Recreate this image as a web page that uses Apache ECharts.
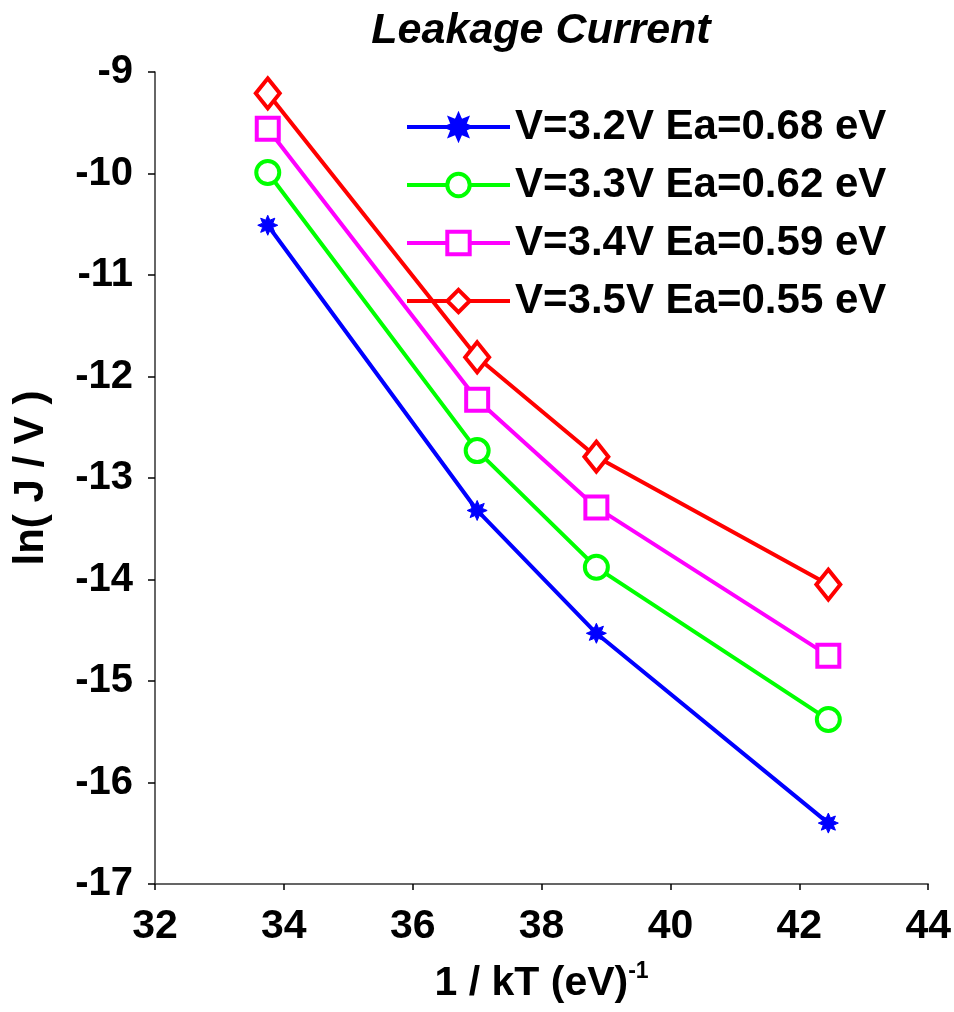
<!DOCTYPE html>
<html>
<head>
<meta charset="utf-8">
<title>Leakage Current</title>
<script src="https://cdn.jsdelivr.net/npm/echarts@6/dist/echarts.min.js"></script>
<style>
  html, body { margin: 0; padding: 0; background: #fff; }
  #chart { width: 954px; height: 1012px; }
</style>
</head>
<body>
<div id="chart"></div>
<script>
// data
var invKT = [33.75, 37.0, 38.85, 42.45];
var names = ['V=3.2V Ea=0.68 eV', 'V=3.3V Ea=0.62 eV', 'V=3.4V Ea=0.59 eV', 'V=3.5V Ea=0.55 eV'];
var v32 = [-10.51, -13.32, -14.53, -16.40];
var v33 = [-9.99, -12.73, -13.88, -15.38];
var v34 = [-9.56, -12.23, -13.29, -14.75];
var v35 = [-9.21, -11.81, -12.79, -14.05];
var colors = ['#0000ff', '#00ff00', '#ff00ff', '#ff0000'];

// fat asterisk for the blue series
function starPath(n, ro, ri) {
    var p = [];
    for (var i = 0; i < 2 * n; i++) {
        var a = Math.PI * i / n, r = i % 2 ? ri : ro;
        p.push((10 + r * Math.cos(a)).toFixed(2) + ',' + (10 + r * Math.sin(a)).toFixed(2));
    }
    return 'path://M' + p.join('L') + 'Z';
}

function pairs(ys) {
    return ys.map(function (y, i) { return [invKT[i], y]; });
}

var font = '"Liberation Sans", Arial, sans-serif';
var chart = echarts.init(document.getElementById('chart'));

function mk(i, ys, symbol, size, filled) {
    return {
        name: names[i],
        type: 'line',
        data: pairs(ys),
        symbol: symbol,
        symbolSize: size,
        showAllSymbol: true,
        lineStyle: { color: colors[i], width: 4 },
        itemStyle: filled
            ? { color: colors[i], borderColor: colors[i], borderWidth: 1 }
            : { color: '#fff', borderColor: colors[i], borderWidth: 4 },
        emphasis: { disabled: true },
        z: 2 + i
    };
}

chart.setOption({
    animation: false,
    backgroundColor: '#fff',
    title: {
        text: 'Leakage Current',
        left: 536, top: 5, textAlign: 'center',
        textStyle: { fontFamily: font, fontSize: 43, fontWeight: 'bold', fontStyle: 'italic', color: '#000' }
    },
    legend: {
        orient: 'vertical',
        left: 400, top: 100,
        itemWidth: 103, itemHeight: 28, itemGap: 14,
        lineStyle: { width: 4 },
        itemStyle: { borderWidth: 4 },
        textStyle: { fontFamily: font, fontSize: 42, lineHeight: 44, fontWeight: 'bold', color: '#000' },
        data: names
    },
    grid: { left: 155, right: 24, top: 72, bottom: 128, containLabel: false },
    xAxis: {
        type: 'value', min: 32, max: 44, interval: 2,
        name: '1 / kT (eV){sup|-1}',
        nameLocation: 'middle', nameGap: 76,
        nameTextStyle: {
            fontFamily: font, fontSize: 41, fontWeight: 'bold', color: '#000',
            rich: { sup: { fontFamily: font, fontSize: 23, fontWeight: 'bold', color: '#000', verticalAlign: 'top', padding: [0, 0, 24, 0] } }
        },
        axisLine: { onZero: false, lineStyle: { color: '#333', width: 1.5 } },
        axisTick: { show: true, inside: false, length: 6, lineStyle: { color: '#000', width: 1.5 } },
        axisLabel: { margin: 22, fontFamily: font, fontSize: 41, fontWeight: 'bold', color: '#000' },
        splitLine: { show: false }
    },
    yAxis: {
        type: 'value', min: -17, max: -9, interval: 1,
        name: 'ln( J / V )',
        nameLocation: 'middle', nameGap: 103, nameRotate: 90,
        nameTextStyle: { fontFamily: font, fontSize: 42, fontWeight: 'bold', color: '#000' },
        axisLine: { onZero: false, lineStyle: { color: '#333', width: 1.5 } },
        axisTick: { show: true, inside: false, length: 7, lineStyle: { color: '#000', width: 1.5 } },
        axisLabel: { margin: 22, fontFamily: font, fontSize: 40, fontWeight: 'bold', color: '#000' },
        splitLine: { show: false }
    },
    series: [
        mk(0, v32, starPath(8, 10, 5.5), 20, true),
        mk(1, v33, 'circle', 23, false),
        mk(2, v34, 'rect', 22, false),
        mk(3, v35, 'diamond', [24, 30], false)
    ]
});
</script>
</body>
</html>
